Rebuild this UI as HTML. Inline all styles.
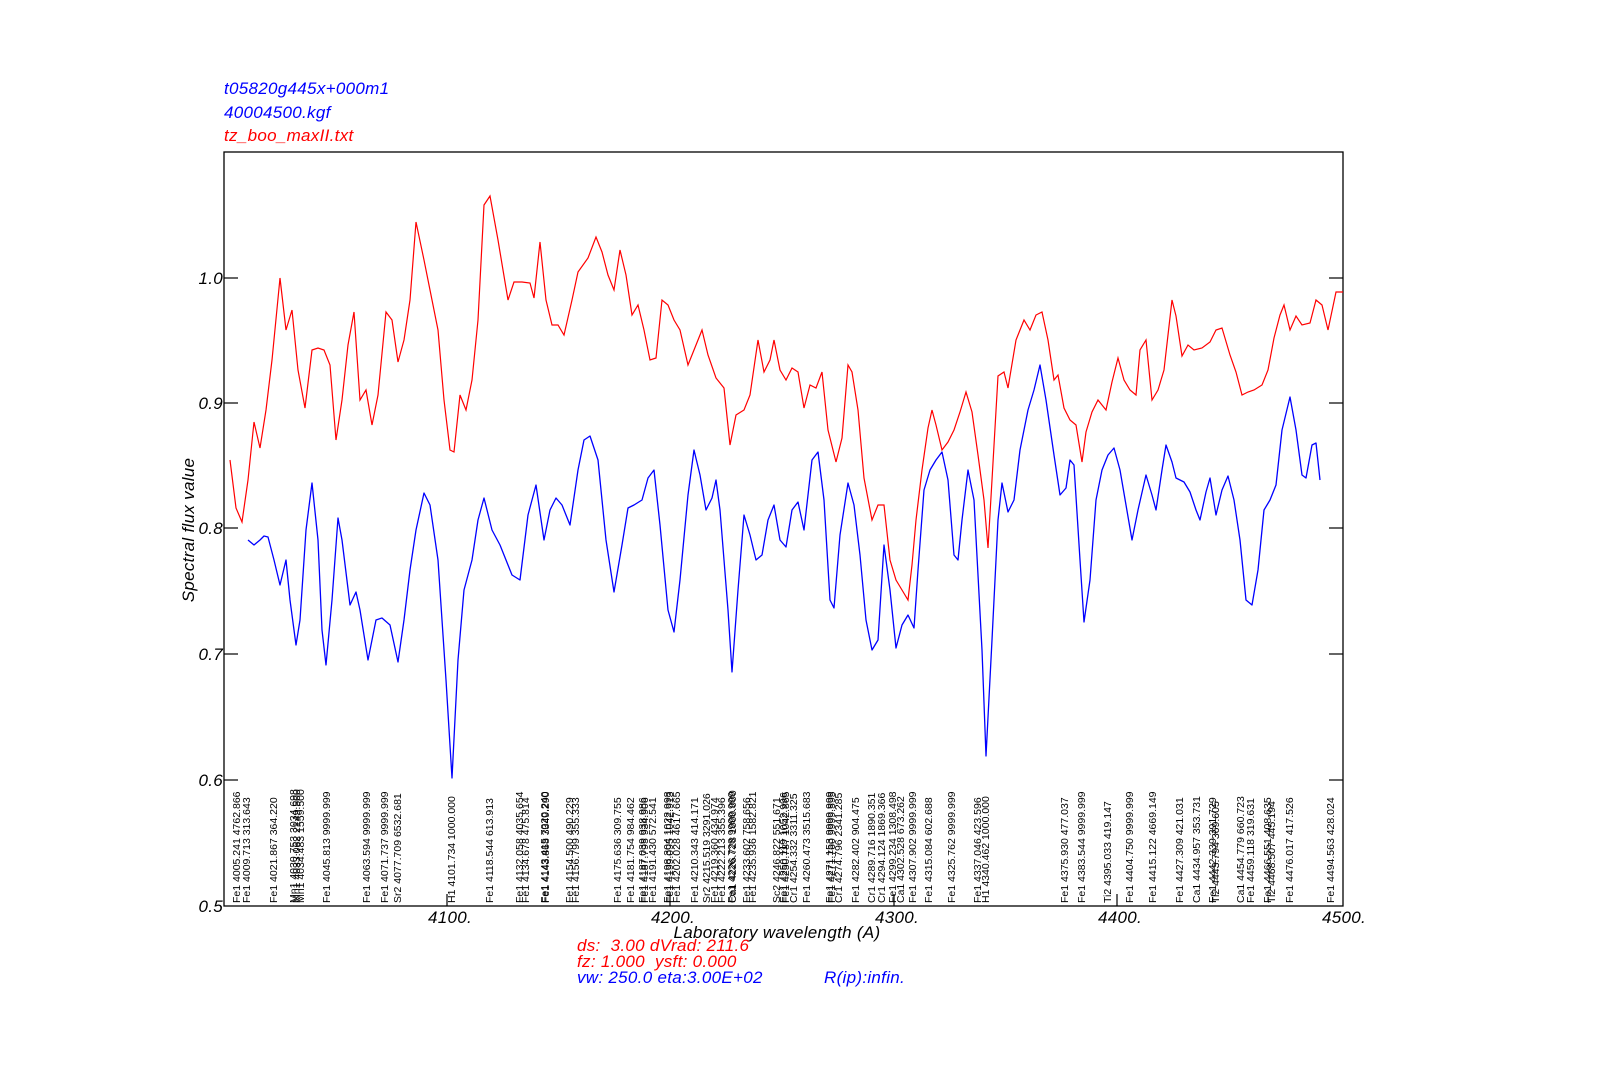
<!DOCTYPE html>
<html><head><meta charset="utf-8"><style>
html,body{margin:0;padding:0;background:#fff;}
svg{display:block;}
text{font-family:"Liberation Sans",Arial,sans-serif;}
.it{font-style:italic;letter-spacing:0.3px;}
.lb{font-size:10.5px;fill:#000;}
</style></head><body>
<svg width="1600" height="1080" viewBox="0 0 1600 1080" xmlns="http://www.w3.org/2000/svg">
<text x="224" y="94" class="it" font-size="17" fill="#0000ff">t05820g445x+000m1</text>
<text x="224" y="118" class="it" font-size="17" fill="#0000ff">40004500.kgf</text>
<text x="224" y="141" class="it" font-size="17" fill="#ff0000">tz_boo_maxII.txt</text>

<rect x="224" y="152" width="1119" height="754" fill="none" stroke="#000" stroke-width="1.3"/>
<g stroke="#000" stroke-width="1.2">
<line x1="224" y1="278" x2="238" y2="278"/><line x1="1343" y1="278" x2="1329" y2="278"/>
<line x1="224" y1="403" x2="238" y2="403"/><line x1="1343" y1="403" x2="1329" y2="403"/>
<line x1="224" y1="528" x2="238" y2="528"/><line x1="1343" y1="528" x2="1329" y2="528"/>
<line x1="224" y1="654" x2="238" y2="654"/><line x1="1343" y1="654" x2="1329" y2="654"/>
<line x1="224" y1="780" x2="238" y2="780"/><line x1="1343" y1="780" x2="1329" y2="780"/>
<line x1="447" y1="906" x2="447" y2="894"/><line x1="670" y1="906" x2="670" y2="894"/>
<line x1="894" y1="906" x2="894" y2="894"/><line x1="1117" y1="906" x2="1117" y2="894"/>
</g>
<g class="it" font-size="17" fill="#000" text-anchor="end">
<text x="223" y="284">1.0</text><text x="223" y="409">0.9</text><text x="223" y="534">0.8</text>
<text x="223" y="660">0.7</text><text x="223" y="786">0.6</text><text x="223" y="912">0.5</text>
</g>
<g class="it" font-size="17" fill="#000" text-anchor="middle">
<text x="450" y="923">4100.</text><text x="673" y="923">4200.</text><text x="897" y="923">4300.</text>
<text x="1120" y="923">4400.</text><text x="1344" y="923">4500.</text>
</g>
<text class="it" font-size="17" fill="#000" text-anchor="middle" transform="translate(194,530) rotate(-90)">Spectral flux value</text>
<text x="777" y="938" class="it" font-size="17" fill="#000" text-anchor="middle">Laboratory wavelength (A)</text>
<text x="577" y="951" class="it" font-size="17" fill="#ff0000" xml:space="preserve">ds:  3.00 dVrad: 211.6</text>
<text x="577" y="967" class="it" font-size="17" fill="#ff0000" xml:space="preserve">fz: 1.000  ysft: 0.000</text>
<text x="577" y="983" class="it" font-size="17" fill="#0000ff">vw: 250.0 eta:3.00E+02</text>
<text x="824" y="983" class="it" font-size="17" fill="#0000ff">R(ip):infin.</text>

<polyline fill="none" stroke="#ff0000" stroke-width="1.2" points="230,460 236,508 242,522 248,480 254,422 260,448 266,410 272,360 280,278 286,330 292,310 298,370 305,408 312,350 318,348 324,350 330,365 336,440 342,400 348,345 354,312 360,400 366,390 372,425 378,395 386,312 392,320 398,362 404,340 410,300 416,222 424,260 432,300 438,330 444,400 450,450 454,452 460,395 466,410 472,380 478,320 484,205 490,196 498,240 508,300 514,282 522,282 530,283 534,298 540,242 546,300 552,325 558,325 564,335 572,300 578,272 588,258 596,237 602,252 608,275 614,290 620,250 626,275 632,315 638,305 644,330 650,360 656,358 662,300 668,305 674,320 680,330 688,365 696,345 702,330 708,355 716,378 724,388 730,445 736,415 744,410 750,395 758,340 764,372 770,360 774,340 780,370 786,380 792,368 798,372 804,408 810,385 816,388 822,372 828,430 836,462 842,438 848,365 852,372 858,410 864,478 872,520 878,505 884,505 890,560 896,580 902,590 908,600 912,565 916,520 922,470 928,428 932,410 936,425 942,450 948,442 954,430 960,412 966,392 972,412 978,455 984,500 988,548 992,480 998,376 1004,372 1008,388 1016,340 1024,320 1030,330 1036,315 1042,312 1048,340 1054,380 1058,375 1064,408 1070,420 1076,425 1082,462 1086,432 1092,412 1098,400 1106,410 1112,382 1118,358 1124,380 1130,390 1136,395 1140,350 1146,340 1152,400 1158,390 1164,370 1172,300 1176,316 1182,356 1188,345 1194,350 1202,348 1210,342 1216,330 1222,328 1230,355 1236,372 1242,395 1248,392 1254,390 1262,385 1268,370 1274,338 1280,315 1284,305 1290,330 1296,316 1302,325 1310,323 1316,300 1322,305 1328,330 1336,292 1343,292"/>

<polyline fill="none" stroke="#0000ff" stroke-width="1.3" stroke-linejoin="round" points="248,540 254,545 260,540 264,536 268,537 274,560 280,585 286,560 290,600 296,645 300,620 306,530 312,483 318,540 322,630 326,665 332,600 338,518 342,540 350,605 356,592 360,610 368,660 376,620 382,618 390,625 398,662 404,620 410,570 416,530 424,493 430,505 438,560 446,680 452,778 458,660 464,590 472,560 478,520 484,498 492,530 500,545 506,560 512,575 520,580 528,515 536,485 544,540 550,510 556,498 562,505 570,525 578,470 584,440 590,436 598,460 606,540 614,592 622,545 628,508 634,505 642,500 648,478 654,470 660,525 668,610 674,632 680,580 688,495 694,450 700,475 706,510 712,498 716,480 720,510 728,610 732,672 738,590 744,515 750,535 756,560 762,555 768,520 774,505 780,540 786,547 792,510 798,502 804,530 812,460 818,452 824,500 830,600 834,608 840,535 848,483 854,505 860,555 866,620 872,650 878,640 884,545 890,590 896,648 902,625 908,615 914,628 918,570 924,490 930,470 936,460 942,452 948,480 954,555 958,560 962,520 968,470 974,500 982,650 986,756 992,640 998,520 1002,483 1008,512 1014,500 1020,450 1028,410 1034,390 1040,365 1046,400 1054,455 1060,495 1066,488 1070,460 1074,465 1080,560 1084,622 1090,580 1096,500 1102,470 1108,455 1114,448 1120,470 1126,505 1132,540 1138,510 1146,475 1152,495 1156,510 1162,470 1166,445 1172,462 1176,478 1184,482 1190,492 1196,510 1200,520 1206,492 1210,478 1216,515 1222,490 1228,476 1234,500 1240,540 1246,600 1252,605 1258,570 1264,510 1270,500 1276,485 1282,430 1290,397 1296,430 1302,475 1306,478 1312,445 1316,443 1320,480"/>

<g class="lb" xml:space="preserve">
<text transform="translate(240,903) rotate(-90)">Fe1 4005.241 4762.866</text>
<text transform="translate(250,903) rotate(-90)">Fe1 4009.713  313.643</text>
<text transform="translate(277,903) rotate(-90)">Fe1 4021.867  364.220</text>
<text transform="translate(297,903) rotate(-90)">Mn1 4030.753 3034.698</text>
<text transform="translate(300,903) rotate(-90)">Mn1 4033.062 2149.500</text>
<text transform="translate(304,903) rotate(-90)">Mn1 4034.483 1559.500</text>
<text transform="translate(330,903) rotate(-90)">Fe1 4045.813 9999.999</text>
<text transform="translate(370,903) rotate(-90)">Fe1 4063.594 9999.999</text>
<text transform="translate(388,903) rotate(-90)">Fe1 4071.737 9999.999</text>
<text transform="translate(401,903) rotate(-90)">Sr2 4077.709 6532.681</text>
<text transform="translate(455,903) rotate(-90)">H1 4101.734 1000.000</text>
<text transform="translate(493,903) rotate(-90)">Fe1 4118.544  613.913</text>
<text transform="translate(523,903) rotate(-90)">Fe1 4132.058 4035.654</text>
<text transform="translate(529,903) rotate(-90)">Fe1 4134.678  475.814</text>
<text transform="translate(548,903) rotate(-90)">Fe1 4143.415 7020.240</text>
<text transform="translate(549,903) rotate(-90)">Fe1 4143.868 3349.290</text>
<text transform="translate(573,903) rotate(-90)">Fe1 4154.500  490.229</text>
<text transform="translate(579,903) rotate(-90)">Fe1 4156.799  355.333</text>
<text transform="translate(621,903) rotate(-90)">Fe1 4175.636  309.755</text>
<text transform="translate(634,903) rotate(-90)">Fe1 4181.754  984.462</text>
<text transform="translate(646,903) rotate(-90)">Fe1 4187.039  938.986</text>
<text transform="translate(648,903) rotate(-90)">Fe1 4187.795  934.906</text>
<text transform="translate(656,903) rotate(-90)">Fe1 4191.430  572.541</text>
<text transform="translate(671,903) rotate(-90)">Fe1 4198.304 1022.998</text>
<text transform="translate(673,903) rotate(-90)">Fe1 4199.095 1042.913</text>
<text transform="translate(680,903) rotate(-90)">Fe1 4202.028 4617.665</text>
<text transform="translate(698,903) rotate(-90)">Fe1 4210.343  414.171</text>
<text transform="translate(710,903) rotate(-90)">Sr2 4215.519 3291.026</text>
<text transform="translate(718,903) rotate(-90)">Fe1 4219.360  434.974</text>
<text transform="translate(725,903) rotate(-90)">Fe1 4222.213  355.396</text>
<text transform="translate(735,903) rotate(-90)">Fe1 4226.728 9999.999</text>
<text transform="translate(736,903) rotate(-90)">Ca1 4226.728 1000.000</text>
<text transform="translate(750,903) rotate(-90)">Fe1 4233.602  758.656</text>
<text transform="translate(756,903) rotate(-90)">Fe1 4235.936 1582.821</text>
<text transform="translate(780,903) rotate(-90)">Sc2 4246.822  551.671</text>
<text transform="translate(787,903) rotate(-90)">Fe1 4250.119 1052.996</text>
<text transform="translate(789,903) rotate(-90)">Fe1 4250.787 1042.865</text>
<text transform="translate(797,903) rotate(-90)">Cr1 4254.332 3311.325</text>
<text transform="translate(810,903) rotate(-90)">Fe1 4260.473 3515.683</text>
<text transform="translate(833,903) rotate(-90)">Fe1 4271.153 9999.999</text>
<text transform="translate(835,903) rotate(-90)">Fe1 4271.760 9999.595</text>
<text transform="translate(842,903) rotate(-90)">Cr1 4274.796 2341.285</text>
<text transform="translate(859,903) rotate(-90)">Fe1 4282.402  904.475</text>
<text transform="translate(875,903) rotate(-90)">Cr1 4289.716 1890.351</text>
<text transform="translate(885,903) rotate(-90)">Cr1 4294.124 1869.366</text>
<text transform="translate(896,903) rotate(-90)">Fe1 4299.234 1308.498</text>
<text transform="translate(904,903) rotate(-90)">Ca1 4302.528  673.262</text>
<text transform="translate(916,903) rotate(-90)">Fe1 4307.902 9999.999</text>
<text transform="translate(932,903) rotate(-90)">Fe1 4315.084  602.688</text>
<text transform="translate(955,903) rotate(-90)">Fe1 4325.762 9999.999</text>
<text transform="translate(981,903) rotate(-90)">Fe1 4337.046  423.596</text>
<text transform="translate(989,903) rotate(-90)">H1 4340.462 1000.000</text>
<text transform="translate(1068,903) rotate(-90)">Fe1 4375.930  477.037</text>
<text transform="translate(1085,903) rotate(-90)">Fe1 4383.544 9999.999</text>
<text transform="translate(1111,903) rotate(-90)">Ti2 4395.033  419.147</text>
<text transform="translate(1133,903) rotate(-90)">Fe1 4404.750 9999.999</text>
<text transform="translate(1156,903) rotate(-90)">Fe1 4415.122 4669.149</text>
<text transform="translate(1183,903) rotate(-90)">Fe1 4427.309  421.031</text>
<text transform="translate(1200,903) rotate(-90)">Ca1 4434.957  353.731</text>
<text transform="translate(1216,903) rotate(-90)">Fe1 4442.339  391.729</text>
<text transform="translate(1219,903) rotate(-90)">Ti2 4443.794  369.605</text>
<text transform="translate(1244,903) rotate(-90)">Ca1 4454.779  660.723</text>
<text transform="translate(1254,903) rotate(-90)">Fe1 4459.118  319.631</text>
<text transform="translate(1271,903) rotate(-90)">Fe1 4466.551  408.635</text>
<text transform="translate(1275,903) rotate(-90)">Ti2 4468.507  445.194</text>
<text transform="translate(1293,903) rotate(-90)">Fe1 4476.017  417.526</text>
<text transform="translate(1334,903) rotate(-90)">Fe1 4494.563  428.024</text>
</g>
</svg>
</body></html>
